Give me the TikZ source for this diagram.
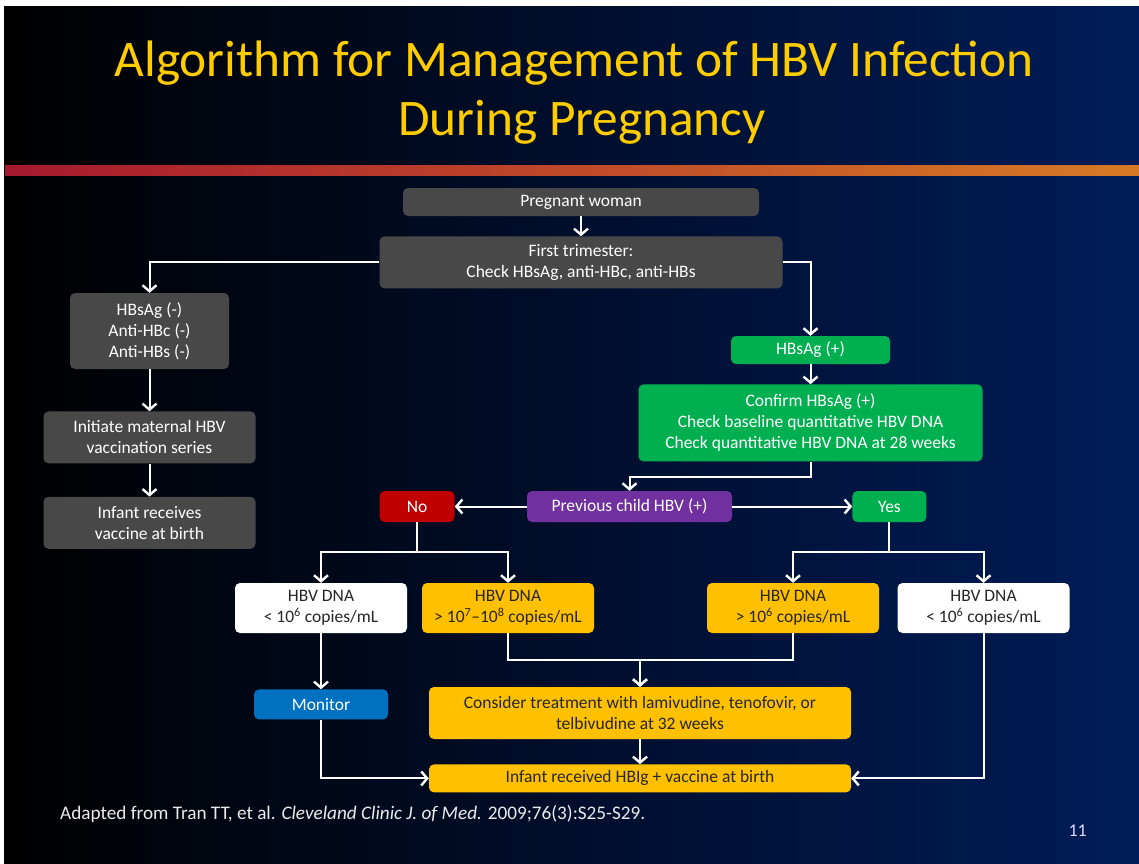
\documentclass[tikz,border=0pt]{standalone}
\usepackage{fontspec}
\setmainfont{Carlito}
\usetikzlibrary{arrows.meta,positioning}
\definecolor{boxgray}{RGB}{72,72,72}
\definecolor{hbvgreen}{RGB}{0,176,80}
\definecolor{hbvpurple}{RGB}{112,48,160}
\definecolor{hbvred}{RGB}{192,0,0}
\definecolor{hbvyellow}{RGB}{255,192,0}
\definecolor{hbvblue}{RGB}{0,112,192}
\definecolor{titleyellow}{RGB}{255,204,0}
\definecolor{slidenavy}{RGB}{0,28,88}
\definecolor{barred}{RGB}{166,25,46}
\definecolor{barorange}{RGB}{216,122,37}
\tikzset{
  >={Straight Barb[length=6pt,width=14pt,line width=2.4pt]},
  box/.style={rounded corners=5pt, align=center, inner sep=2pt, font=\fontsize{17.5}{21}\selectfont},
  graybox/.style={box, fill=boxgray, text=white},
  greenbox/.style={box, fill=hbvgreen, text=white},
  purplebox/.style={box, fill=hbvpurple, text=white},
  redbox/.style={box, fill=hbvred, text=white},
  bluebox/.style={box, fill=hbvblue, text=white},
  yellowbox/.style={box, fill=hbvyellow, text=black!85},
  whitebox/.style={box, fill=white, text=black!85},
  dnabox/.style={minimum width=172pt, minimum height=50pt},
  flow/.style={draw=white, line width=2pt, ->},
}

\begin{document}
\begin{tikzpicture}[x=1pt,y=1pt]
  % slide background
  \fill[white] (0,0) rectangle (1139,-863);
  \shade[left color=black, right color=slidenavy] (4,-6) rectangle (1139,-863);
  \shade[left color=barred, right color=barorange] (5,-165) rectangle (1139,-175);

  % title
  \node[anchor=base, text=titleyellow, font=\fontsize{51.3}{58}\selectfont] (title1) at (574,-76) {Algorithm for Management of HBV Infection};
  \node[anchor=base, text=titleyellow, font=\fontsize{51.3}{58}\selectfont] (title2) at (582,-135) {During Pregnancy};

  % screening
  \node[graybox, minimum width=356pt, minimum height=28pt] (pw) at (581,-202) {Pregnant woman};
  \node[graybox, minimum width=403pt, minimum height=52pt, below=20pt of pw] (ft) {First trimester:\\Check HBsAg, anti-HBc, anti-HBs};

  % negative branch
  \node[graybox, minimum width=159pt, minimum height=76pt] (neg) at (149.5,-331) {HBsAg (-)\\Anti-HBc (-)\\Anti-HBs (-)};
  \node[graybox, minimum width=212pt, minimum height=52pt, below=42pt of neg] (vac) {Initiate maternal HBV\\vaccination series};
  \node[graybox, minimum width=212pt, minimum height=52pt, below=33pt of vac] (inf) {Infant receives\\vaccine at birth};

  % positive branch
  \node[greenbox, minimum width=159pt, minimum height=28pt] (pos) at (810.5,-350) {HBsAg (+)};
  \node[greenbox, minimum width=344pt, minimum height=77pt, below=20pt of pos] (conf) {Confirm HBsAg (+)\\Check baseline quantitative HBV DNA\\Check quantitative HBV DNA at 28 weeks};

  \node[purplebox, minimum width=205pt, minimum height=31pt] (prev) at (629.5,-506.5) {Previous child HBV (+)};
  \node[redbox, minimum width=75pt, minimum height=31pt, left=72pt of prev] (no) {No};
  \node[greenbox, minimum width=74pt, minimum height=31pt, right=120pt of prev] (yes) {Yes};

  \node[whitebox, dnabox] (lowa) at (321,-608) {HBV DNA\\< 10\textsuperscript{6} copies/mL};
  \node[yellowbox, dnabox] (higha) at (508,-608) {HBV DNA\\> 10\textsuperscript{7}--10\textsuperscript{8} copies/mL};
  \node[yellowbox, dnabox] (highb) at (793,-608) {HBV DNA\\> 10\textsuperscript{6} copies/mL};
  \node[whitebox, dnabox] (lowb) at (983.5,-608) {HBV DNA\\< 10\textsuperscript{6} copies/mL};

  \node[bluebox, minimum width=134pt, minimum height=30pt, below=56pt of lowa] (mon) {Monitor};
  \node[yellowbox, minimum width=422pt, minimum height=52pt] (cons) at (640,-713) {Consider treatment with lamivudine, tenofovir, or\\telbivudine at 32 weeks};
  \node[yellowbox, minimum width=422pt, minimum height=28pt, below=25pt of cons] (hbig) {Infant received HBIg + vaccine at birth};

  % footer
  \node[anchor=base west, inner sep=0pt, text=white!92!black, font=\fontsize{19.2}{21}\selectfont] (src) at (60,-819) {Adapted from Tran TT, et al. \textit{Cleveland Clinic J. of Med.} 2009;76(3):S25-S29.};
  \node[anchor=base east, inner sep=0pt, text=white!85!blue, font=\fontsize{18}{20}\selectfont] (pnum) at (1087,-836) {11};

  % connectors
  \draw[flow] (pw) -- (ft);
  \draw[flow] (ft.west) -| (neg.north);
  \draw[flow] (neg) -- (vac);
  \draw[flow] (vac) -- (inf);
  \draw[flow] (ft.east) -| (pos.north);
  \draw[flow] (pos) -- (conf);
  \draw[flow] (conf.south) -- ++(0,-15) -| (prev.north);
  \draw[flow] (prev) -- (no);
  \draw[flow] (prev) -- (yes);

  \draw[flow] (no.south) -- ++(0,-30) -| (lowa.north);
  \draw[flow] (no.south) -- ++(0,-30) -| (higha.north);
  \draw[flow] (yes.south) -- ++(0,-30) -| (highb.north);
  \draw[flow] (yes.south) -- ++(0,-30) -| (lowb.north);

  \draw[flow] (lowa) -- (mon);
  \draw[flow] (mon.south) |- (hbig.west);
  \draw[flow] (higha.south) -- ++(0,-27) -| (cons.north);
  \draw[flow] (highb.south) -- ++(0,-27) -| (cons.north);
  \draw[flow] (cons) -- (hbig);
  \draw[flow] (lowb.south) |- (hbig.east);
\end{tikzpicture}
\end{document}
